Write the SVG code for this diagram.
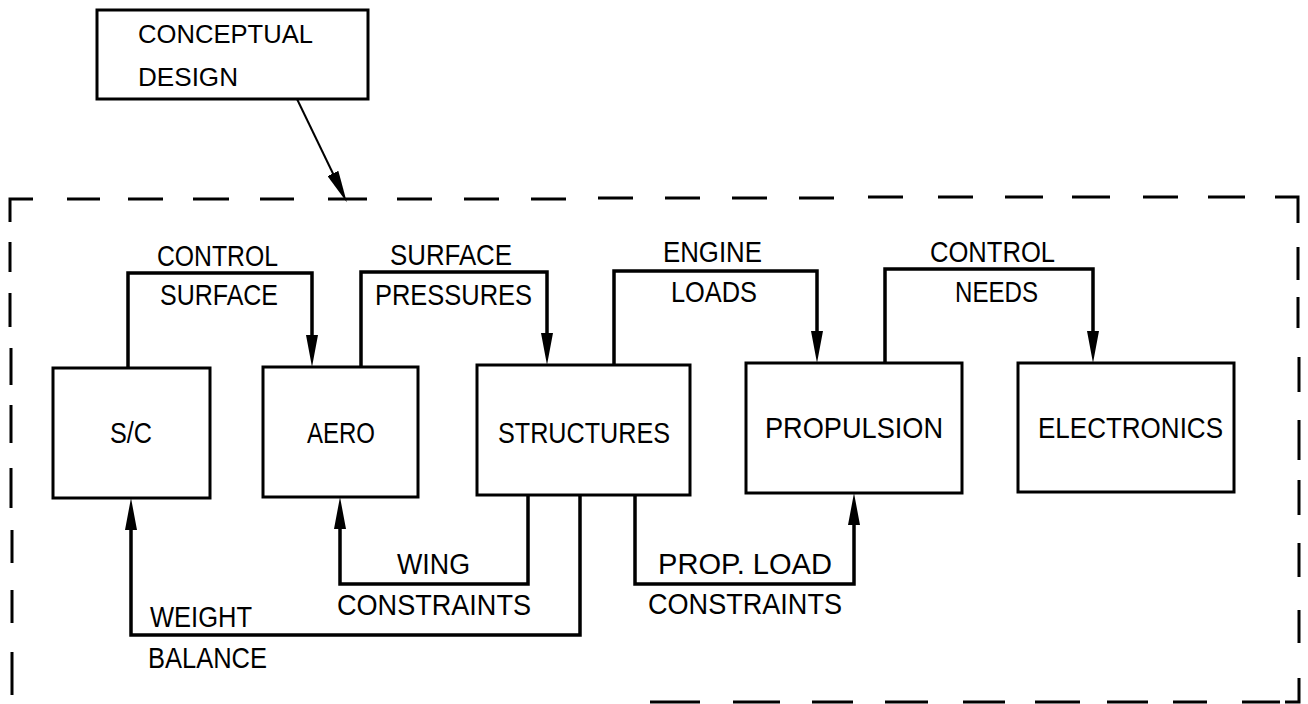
<svg xmlns="http://www.w3.org/2000/svg" width="1308" height="704" viewBox="0 0 1308 704">
<style>
.box{fill:none;stroke:#000;stroke-width:3}
.con{fill:none;stroke:#000;stroke-width:3.5;stroke-linejoin:miter}
.thin{fill:none;stroke:#000;stroke-width:2}
.dash{fill:none;stroke:#000;stroke-width:3}
text{font-family:"Liberation Sans",Arial,sans-serif;font-size:30px;fill:#000}
.sm{font-size:26px}
</style>
<defs>
<marker id="arr" markerUnits="userSpaceOnUse" markerWidth="34" markerHeight="12" refX="14" refY="6" orient="auto" viewBox="0 0 34 12">
<path d="M0,0 L32,6 L0,12 Z" fill="#000"/>
</marker>
</defs>
<rect width="1308" height="704" fill="#fff"/>

<g id="boundary">
<path class="dash" d="M10,222 V199 H33 M67,199 H100 M128,199 H163 M193,199 H229 M260,199 H294 M328,199 H367 M397,199 H432 M464,199 H499 M531,199 H566 M598,198 H633 M665,198 H700 M732,198 H767 M799,198 H834 M868,197 H903 M938,197 H973 M1005,197 H1043 M1072,197 H1110 M1143,197 H1178 M1208,197 H1245 M1275,197 H1298 V223"/>
<path class="dash" d="M10,242 V272 M10,293 V327 M11,348 V385 M11,405 V443 M11,468 V508 M12,530 V563 M12,590 V623 M12,652 V695"/>
<path class="dash" d="M1298,247 V280 M1298,297 V328 M1299,357 V392 M1299,420 V460 M1299,480 V515 M1299,543 V577 M1299,610 V643 M1299,678 V702 H1285 M1280,702 H1242 M1207,702 H1173 M1148,702 H1107 M1080,702 H1035 M1005,702 H963 M928,702 H885 M853,702 H812 M780,702 H733 M700,702 H650"/>
</g>

<g id="conceptual">
<rect class="box" x="97" y="10" width="271" height="89"/>
<text class="sm" x="138" y="43" textLength="175" lengthAdjust="spacingAndGlyphs">CONCEPTUAL</text>
<text class="sm" x="138" y="86" textLength="100" lengthAdjust="spacingAndGlyphs">DESIGN</text>
</g>

<g id="sc">
<rect class="box" x="53" y="368" width="157" height="130"/>
<text x="110" y="443" textLength="42" lengthAdjust="spacingAndGlyphs">S/C</text>
</g>
<g id="aero">
<rect class="box" x="263" y="367" width="155" height="130"/>
<text x="307" y="443" textLength="68" lengthAdjust="spacingAndGlyphs">AERO</text>
</g>
<g id="structures">
<rect class="box" x="477" y="365" width="213" height="130"/>
<text x="498" y="443" textLength="172" lengthAdjust="spacingAndGlyphs">STRUCTURES</text>
</g>
<g id="propulsion">
<rect class="box" x="746" y="363" width="216" height="130"/>
<text x="765" y="438" textLength="178" lengthAdjust="spacingAndGlyphs">PROPULSION</text>
</g>
<g id="electronics">
<rect class="box" x="1018" y="363" width="216" height="129"/>
<text x="1038" y="438" textLength="185" lengthAdjust="spacingAndGlyphs">ELECTRONICS</text>
</g>

<g id="connectors">
<path class="thin" d="M297,99 L339,186" marker-end="url(#arr)"/>
<path class="con" d="M128,368 V273 H312 V349" marker-end="url(#arr)"/>
<path class="con" d="M361,367 V272 H547 V347" marker-end="url(#arr)"/>
<path class="con" d="M614,365 V271 H817 V345" marker-end="url(#arr)"/>
<path class="con" d="M885,363 V269 H1093 V345" marker-end="url(#arr)"/>
<path class="con" d="M528,495 V584 H340 V515" marker-end="url(#arr)"/>
<path class="con" d="M580,495 V635 H131 V516" marker-end="url(#arr)"/>
<path class="con" d="M635,495 V584 H854 V511" marker-end="url(#arr)"/>
</g>

<g id="labels">
<text x="157" y="266" textLength="121" lengthAdjust="spacingAndGlyphs">CONTROL</text>
<text x="160" y="305" textLength="118" lengthAdjust="spacingAndGlyphs">SURFACE</text>
<text x="390" y="265" textLength="122" lengthAdjust="spacingAndGlyphs">SURFACE</text>
<text x="375" y="305" textLength="157" lengthAdjust="spacingAndGlyphs">PRESSURES</text>
<text x="663" y="262" textLength="99" lengthAdjust="spacingAndGlyphs">ENGINE</text>
<text x="671" y="302" textLength="86" lengthAdjust="spacingAndGlyphs">LOADS</text>
<text x="930" y="262" textLength="125" lengthAdjust="spacingAndGlyphs">CONTROL</text>
<text x="955" y="302" textLength="83" lengthAdjust="spacingAndGlyphs">NEEDS</text>
<text x="397" y="574" textLength="73" lengthAdjust="spacingAndGlyphs">WING</text>
<text x="337" y="615" textLength="194" lengthAdjust="spacingAndGlyphs">CONSTRAINTS</text>
<text x="150" y="627" textLength="102" lengthAdjust="spacingAndGlyphs">WEIGHT</text>
<text x="148" y="668" textLength="119" lengthAdjust="spacingAndGlyphs">BALANCE</text>
<text x="658" y="574" textLength="174" lengthAdjust="spacingAndGlyphs">PROP. LOAD</text>
<text x="648" y="614" textLength="194" lengthAdjust="spacingAndGlyphs">CONSTRAINTS</text>
</g>
</svg>
